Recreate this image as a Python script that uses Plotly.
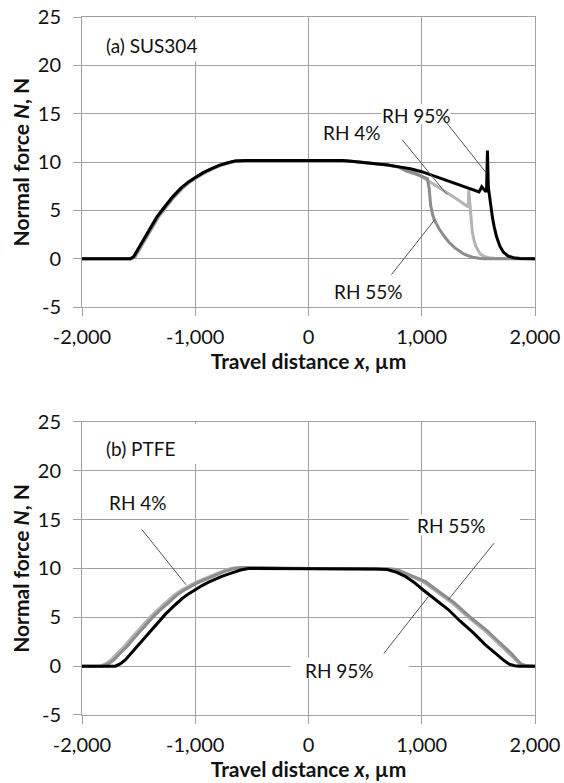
import plotly.graph_objects as go
from plotly.subplots import make_subplots

# ---------------- data ----------------
x_ticks = [-2000, -1000, 0, 1000, 2000]
x_tick_labels = ["-2,000", "-1,000", "0", "1,000", "2,000"]
y_ticks = [-5, 0, 5, 10, 15, 20, 25]
y_tick_labels = ["-5", "0", "5", "10", "15", "20", "25"]

# (a) SUS304
sus_rh4_x = [-2000, -1560, -1530, -1495, -1445, -1385, -1325, -1260, -1185, -1112, -1045, -985,
             -915, -846, -775, -698, -635, -550, -400, -200, 0, 200, 300, 400, 500, 624, 700,
             800, 900, 960, 1050, 1130, 1212, 1300, 1360, 1410, 1415, 1420, 1432, 1447, 1462,
             1476, 1500, 1520, 1560, 1594, 1650, 2000]
sus_rh4_y = [0, 0, 0.2, 0.9, 2.0, 3.2, 4.3, 5.3, 6.4, 7.3, 7.95, 8.4,
             8.9, 9.3, 9.65, 9.93, 10.1, 10.15, 10.15, 10.2, 10.2, 10.2, 10.15, 10.05, 9.95, 9.85, 9.7,
             9.5, 9.2, 8.8, 8.15, 7.5, 6.9, 6.25, 5.8, 5.35, 7.1, 6.4, 4.5, 2.7, 1.9,
             1.33, 0.8, 0.45, 0.2, 0.1, 0.02, 0]

sus_rh55_x = [-2000, -1565, -1535, -1500, -1450, -1390, -1330, -1265, -1190, -1117, -1050, -990,
              -920, -851, -780, -703, -640, -550, -400, -200, 0, 200, 300, 400, 500, 624, 700,
              800, 859, 960, 1050, 1065, 1079, 1095, 1109, 1130, 1153, 1200, 1241, 1290, 1329,
              1370, 1418, 1460, 1506, 1550, 2000]
sus_rh55_y = [0, 0, 0.2, 0.9, 2.0, 3.2, 4.3, 5.3, 6.4, 7.3, 7.95, 8.4,
              8.9, 9.3, 9.65, 9.93, 10.1, 10.15, 10.15, 10.2, 10.2, 10.2, 10.15, 10.05, 9.95, 9.85, 9.7,
              9.45, 9.1, 8.7, 8.3, 7.3, 5.5, 4.6, 4.1, 3.6, 3.1, 2.3, 1.7, 1.15, 0.8,
              0.5, 0.28, 0.12, 0.04, 0, 0]

sus_rh95_x = [-2000, -1575, -1545, -1510, -1460, -1400, -1340, -1275, -1200, -1127, -1060, -1000,
              -930, -861, -790, -713, -650, -550, -400, -200, 0, 200, 300, 400, 500, 624, 700,
              800, 900, 1000, 1100, 1212, 1300, 1418, 1506, 1530, 1545, 1560, 1572, 1580, 1588,
              1600, 1610, 1625, 1640, 1660, 1690, 1720, 1760, 1810, 1870, 2000]
sus_rh95_y = [0, 0, 0.2, 0.9, 2.0, 3.2, 4.3, 5.3, 6.4, 7.3, 7.95, 8.4,
              8.9, 9.3, 9.65, 9.93, 10.1, 10.15, 10.15, 10.2, 10.2, 10.2, 10.15, 10.05, 9.95, 9.85, 9.7,
              9.5, 9.3, 9.0, 8.6, 8.15, 7.8, 7.3, 6.9, 7.45, 7.2, 7.0, 7.0, 11.2, 7.4,
              6.2, 5.3, 4.2, 3.3, 2.3, 1.3, 0.7, 0.3, 0.1, 0.02, 0]

# (b) PTFE
ptfe_rh4_x = [-2000, -1840, -1790, -1745, -1690, -1628, -1570, -1510, -1450, -1392, -1320, -1245,
              -1190, -1128, -1070, -1010, -950, -892, -830, -775, -686, -610, -530, -400, -200,
              0, 200, 400, 600, 700, 759, 850, 930, 1013, 1130, 1266, 1400, 1551, 1660, 1772,
              1830, 1867, 1920, 2000]
ptfe_rh4_y = [0, 0, 0.25, 0.63, 1.3, 2.0, 2.8, 3.6, 4.35, 5.1, 5.9, 6.7,
              7.25, 7.75, 8.15, 8.5, 8.8, 9.1, 9.4, 9.65, 10.0, 10.1, 10.1, 10.05, 10.02,
              10.0, 10.0, 10.0, 9.98, 9.95, 9.9, 9.45, 9.1, 8.65, 7.65, 6.5, 5.1, 3.7, 2.5, 1.3,
              0.6, 0.2, 0.03, 0]

ptfe_rh55_x = [-2000, -1815, -1765, -1720, -1665, -1603, -1545, -1485, -1425, -1367, -1295, -1220,
               -1165, -1103, -1045, -985, -925, -867, -805, -750, -661, -585, -510, -400, -200,
               0, 200, 400, 600, 720, 780, 870, 950, 1033, 1150, 1286, 1420, 1571, 1680, 1792,
               1845, 1880, 1930, 2000]
ptfe_rh55_y = [0, 0, 0.25, 0.63, 1.3, 2.0, 2.8, 3.6, 4.35, 5.1, 5.9, 6.7,
               7.25, 7.75, 8.15, 8.5, 8.8, 9.1, 9.4, 9.65, 10.0, 10.1, 10.1, 10.05, 10.02,
               10.0, 10.0, 10.0, 9.98, 9.95, 9.9, 9.45, 9.1, 8.65, 7.65, 6.5, 5.1, 3.7, 2.5, 1.3,
               0.6, 0.2, 0.03, 0]

ptfe_rh95_x = [-2000, -1706, -1660, -1618, -1560, -1500, -1440, -1382, -1320, -1265, -1190, -1118,
               -1060, -1000, -940, -882, -820, -765, -676, -600, -530, -400, -200, 0, 200, 400,
               600, 696, 780, 854, 930, 1013, 1120, 1234, 1340, 1456, 1560, 1677, 1730, 1772,
               1820, 1867, 2000]
ptfe_rh95_y = [0, 0, 0.25, 0.63, 1.4, 2.2, 2.95, 3.75, 4.55, 5.3, 6.15, 6.9,
               7.4, 7.85, 8.25, 8.6, 8.95, 9.2, 9.55, 9.85, 10.0, 10.0, 10.0, 10.0, 10.0, 9.98,
               9.95, 9.9, 9.6, 9.2, 8.6, 7.8, 6.85, 5.8, 4.6, 3.4, 2.2, 1.0, 0.55, 0.2,
               0.05, 0, 0]

series_labels = ["RH 4%", "RH 55%", "RH 95%"]
panel_titles = ["(a) SUS304", "(b) PTFE"]

# ---------------- style ----------------
FONT = "Lato"
GRID = "#a0a0a0"
C_LIGHT = "#b4b4b4"
C_MED = "#8c8c8c"
C_DARK = "#000000"
LW = 3

fig = make_subplots(rows=2, cols=1, vertical_spacing=0.1646)

top = [(sus_rh4_x, sus_rh4_y, C_LIGHT), (sus_rh55_x, sus_rh55_y, C_MED), (sus_rh95_x, sus_rh95_y, C_DARK)]
bot = [(ptfe_rh4_x, ptfe_rh4_y, C_LIGHT), (ptfe_rh55_x, ptfe_rh55_y, C_MED), (ptfe_rh95_x, ptfe_rh95_y, C_DARK)]
for row, group in ((1, top), (2, bot)):
    for (xs, ys, col), name in zip(group, series_labels):
        fig.add_trace(go.Scatter(x=xs, y=ys, mode="lines", name=name,
                                 line=dict(color=col, width=LW), showlegend=False),
                      row=row, col=1)

axis_common = dict(showgrid=True, gridcolor=GRID, gridwidth=1, showline=True, linecolor=GRID,
                   linewidth=1, mirror=True, ticks="outside", ticklen=8, tickcolor=GRID,
                   zeroline=False, automargin=False,
                   tickfont=dict(family=FONT, size=20, color="#111"))
for r in (1, 2):
    fig.update_xaxes(range=[-2000, 2000], tickmode="array", tickvals=x_ticks, ticktext=x_tick_labels,
                     title=dict(text="<b>Travel distance <i>x</i>, µm</b>", standoff=6,
                                font=dict(family=FONT, size=21, color="#111")),
                     ticklabelstandoff=4, **axis_common, row=r, col=1)
    fig.update_yaxes(range=[-5, 25], tickmode="array", tickvals=y_ticks, ticktext=y_tick_labels,
                     title=dict(text="<b>Normal force <i>N</i>, N</b>", standoff=2,
                                font=dict(family=FONT, size=21, color="#111")),
                     ticklabelstandoff=8, **axis_common, row=r, col=1)

fig.update_layout(
    width=564, height=783,
    margin=dict(l=82, r=29, t=17, b=68),
    paper_bgcolor="white", plot_bgcolor="white",
    font=dict(family=FONT, color="#111"),
)
fig.update_layout(yaxis=dict(domain=[0.5844, 1.0]), yaxis2=dict(domain=[0.0, 0.4198]))

# white label backgrounds (cover gridlines, under the curves)
boxes = [("x", "y", -1850, -880, 20.4, 24.85),
         ("x", "y", 640, 1255, 13.9, 16.0),
         ("x2", "y2", -1850, -950, 20.7, 24.85),
         ("x2", "y2", 886, 1867, 13.4, 15.5),
         ("x2", "y2", -158, 886, -1.3, 0.9)]
for xr, yr, x0, x1, y0, y1 in boxes:
    fig.add_shape(type="rect", xref=xr, yref=yr, x0=x0, x1=x1, y0=y0, y1=y1,
                  fillcolor="white", line=dict(width=0), layer="between")

# leader lines
leaders = [("x", "y", 1176, 14.7, 1572, 8.84),
           ("x", "y", 827, 12.3, 1223, 6.64),
           ("x", "y", 732, -1.65, 1113, 4.02),
           ("x2", "y2", -1472, 14.0, -1082, 8.35),
           ("x2", "y2", 1639, 12.6, 1234, 6.8),
           ("x2", "y2", 665, 1.3, 1060, 7.15)]
for xr, yr, x0, y0, x1, y1 in leaders:
    fig.add_shape(type="line", xref=xr, yref=yr, x0=x0, y0=y0, x1=x1, y1=y1,
                  line=dict(color="#555555", width=1), layer="above")

labels = [("x", "y", -1803, 22.1, panel_titles[0], "left"),
          ("x", "y", 954, 14.86, series_labels[2], "center"),
          ("x", "y", 383, 13.1, series_labels[0], "center"),
          ("x", "y", 526, -3.37, series_labels[1], "center"),
          ("x2", "y2", -1804, 22.3, panel_titles[1], "left"),
          ("x2", "y2", -1509, 16.8, series_labels[0], "center"),
          ("x2", "y2", 1266, 14.4, series_labels[1], "center"),
          ("x2", "y2", 278, -0.48, series_labels[2], "center")]
for xr, yr, x, y, t, anc in labels:
    fig.add_annotation(xref=xr, yref=yr, x=x, y=y, text=t, showarrow=False, xanchor=anc,
                       yanchor="middle", font=dict(family=FONT, size=19, color="#111"))

fig.write_html("out.html", config={"displayModeBar": False},
               post_script="document.body.style.margin='0px';document.body.style.overflow='hidden';")
